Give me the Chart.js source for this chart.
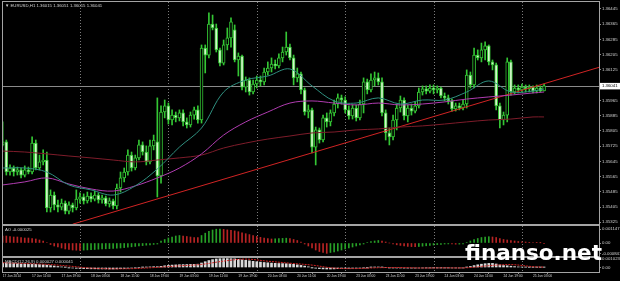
<!DOCTYPE html>
<html>
<head>
<meta charset="utf-8">
<script src="https://cdn.jsdelivr.net/npm/chart.js@4.4.1/dist/chart.umd.min.js"></script>
<style>
  html, body { margin: 0; padding: 0; background: #000; }
  #wrap { position: relative; width: 620px; height: 281px; background: #000; overflow: hidden; }
  #wrap canvas { position: absolute; left: 0; }
  #mark { position: absolute; left: 465px; top: 242px; font: bold 21.5px/21.5px "DejaVu Sans", sans-serif; color: #fff; white-space: nowrap; }
</style>
</head>
<body>
<div id="wrap">
  <canvas id="price" width="620" height="225" style="top:0"></canvas>
  <canvas id="ao" width="620" height="32" style="top:225px"></canvas>
  <canvas id="macd" width="620" height="24" style="top:257px"></canvas>
  <div id="mark">finanso.net</div>
</div>
<script>
// EURUSD H1, 17 Jun 03:00 .. 25 Jun 05:00 (one entry per hourly bar)
const opens = [
  1.35731,1.35747,1.35589,1.35610,1.35589,1.35600,1.35573,1.35600,1.35589,1.35741,
  1.35610,1.35642,1.35652,1.35400,1.35468,1.35416,1.35405,1.35426,1.35384,1.35416,
  1.35400,1.35447,1.35458,1.35437,1.35463,1.35447,1.35468,1.35442,1.35453,1.35421,
  1.35437,1.35411,1.35505,1.35558,1.35589,1.35678,1.35610,1.35663,1.35731,1.35694,
  1.35642,1.35726,1.35747,1.35568,1.35904,1.35936,1.35862,1.35888,1.35873,1.35899,
  1.35852,1.35836,1.35888,1.35915,1.35862,1.36240,1.36203,1.36366,1.36345,1.36230,
  1.36161,1.36256,1.36293,1.36335,1.36177,1.36198,1.36035,1.36072,1.36009,1.36051,
  1.36072,1.36062,1.36114,1.36135,1.36156,1.36146,1.36188,1.36219,1.36245,1.36188,
  1.36083,1.36104,1.36020,1.35904,1.35915,1.35720,1.35810,1.35757,1.35873,1.35852,
  1.35899,1.35946,1.35978,1.35967,1.35915,1.35883,1.35925,1.35873,1.35946,1.36062,
  1.36020,1.36072,1.36083,1.36062,1.35899,1.35794,1.35773,1.35862,1.35925,1.35967,
  1.35883,1.35925,1.35909,1.35936,1.36009,1.36025,1.36014,1.36030,1.36020,1.36030,
  1.35988,1.35978,1.35962,1.35920,1.35936,1.35925,1.35946,1.36098,1.36046,1.36203,
  1.36188,1.36230,1.36251,1.36167,1.36151,1.35936,1.35862,1.35888,1.36167,1.36009,
  1.36030,1.36020,1.36035,1.36025,1.36035,1.36014,1.36030,1.36015
];
const highs = [
  1.35852,1.35757,1.35626,1.35621,1.35615,1.35610,1.35621,1.35615,1.35773,1.35757,
  1.35678,1.35705,1.35694,1.35495,1.35484,1.35442,1.35447,1.35437,1.35432,1.35426,
  1.35495,1.35479,1.35474,1.35484,1.35479,1.35489,1.35479,1.35468,1.35463,1.35453,
  1.35447,1.35526,1.35589,1.35610,1.35705,1.35694,1.35678,1.35757,1.35747,1.35726,
  1.35757,1.35783,1.35978,1.35936,1.35967,1.35951,1.35915,1.35904,1.35915,1.35915,
  1.35873,1.35904,1.35930,1.35936,1.36256,1.36256,1.36424,1.36413,1.36366,1.36240,
  1.36282,1.36345,1.36398,1.36361,1.36214,1.36203,1.36088,1.36083,1.36072,1.36093,
  1.36093,1.36135,1.36167,1.36188,1.36177,1.36209,1.36245,1.36324,1.36261,1.36203,
  1.36135,1.36114,1.36030,1.35941,1.35925,1.35825,1.35820,1.35888,1.35899,1.35915,
  1.35967,1.35999,1.35993,1.35983,1.35936,1.35941,1.35941,1.35967,1.36083,1.36077,
  1.36104,1.36114,1.36109,1.36083,1.35915,1.35820,1.35888,1.35946,1.35988,1.35978,
  1.35941,1.35946,1.35957,1.36030,1.36041,1.36041,1.36046,1.36046,1.36041,1.36035,
  1.36004,1.35993,1.35972,1.35951,1.35951,1.35967,1.36125,1.36114,1.36240,1.36230,
  1.36266,1.36272,1.36256,1.36177,1.36161,1.35951,1.35904,1.36188,1.36177,1.36046,
  1.36046,1.36051,1.36046,1.36046,1.36041,1.36046,1.36041,1.36051
];
const lows = [
  1.35726,1.35573,1.35573,1.35568,1.35573,1.35558,1.35563,1.35579,1.35579,1.35600,
  1.35600,1.35626,1.35379,1.35379,1.35390,1.35379,1.35390,1.35369,1.35369,1.35379,
  1.35390,1.35426,1.35421,1.35426,1.35432,1.35437,1.35426,1.35426,1.35411,1.35405,
  1.35395,1.35395,1.35484,1.35537,1.35573,1.35594,1.35600,1.35652,1.35678,1.35626,
  1.35631,1.35705,1.35458,1.35531,1.35873,1.35841,1.35836,1.35852,1.35857,1.35831,
  1.35820,1.35825,1.35867,1.35846,1.35846,1.36109,1.36188,1.36335,1.36219,1.36146,
  1.36151,1.36230,1.36245,1.36167,1.36093,1.36020,1.36009,1.35993,1.35999,1.36030,
  1.36041,1.36046,1.36098,1.36114,1.36130,1.36135,1.36167,1.36203,1.36177,1.36046,
  1.36062,1.35999,1.35888,1.35873,1.35689,1.35626,1.35741,1.35747,1.35825,1.35831,
  1.35883,1.35925,1.35946,1.35899,1.35867,1.35867,1.35857,1.35862,1.35899,1.35999,
  1.36009,1.36041,1.36046,1.35883,1.35757,1.35731,1.35757,1.35810,1.35904,1.35862,
  1.35852,1.35888,1.35899,1.35925,1.35993,1.35999,1.36004,1.35999,1.36004,1.35978,
  1.35962,1.35946,1.35909,1.35909,1.35915,1.35915,1.35925,1.36030,1.36030,1.36177,
  1.36167,1.36177,1.36151,1.36125,1.35915,1.35820,1.35836,1.35852,1.35993,1.35999,
  1.36004,1.36009,1.36009,1.36009,1.36004,1.36004,1.36009,1.36015
];
const closes = [
  1.35747,1.35589,1.35610,1.35589,1.35600,1.35573,1.35600,1.35589,1.35741,1.35610,
  1.35642,1.35652,1.35400,1.35468,1.35416,1.35405,1.35426,1.35384,1.35416,1.35400,
  1.35447,1.35458,1.35437,1.35463,1.35447,1.35468,1.35442,1.35453,1.35421,1.35437,
  1.35411,1.35505,1.35558,1.35589,1.35678,1.35610,1.35663,1.35731,1.35694,1.35642,
  1.35726,1.35757,1.35568,1.35904,1.35936,1.35862,1.35888,1.35873,1.35899,1.35852,
  1.35836,1.35888,1.35915,1.35862,1.36240,1.36203,1.36366,1.36345,1.36230,1.36161,
  1.36256,1.36293,1.36377,1.36177,1.36198,1.36035,1.36072,1.36009,1.36051,1.36072,
  1.36062,1.36114,1.36135,1.36156,1.36146,1.36188,1.36219,1.36245,1.36188,1.36083,
  1.36104,1.36020,1.35904,1.35915,1.35720,1.35810,1.35757,1.35873,1.35852,1.35899,
  1.35946,1.35978,1.35967,1.35915,1.35883,1.35925,1.35873,1.35946,1.36062,1.36020,
  1.36072,1.36083,1.36062,1.35899,1.35794,1.35773,1.35862,1.35925,1.35967,1.35883,
  1.35925,1.35909,1.35936,1.36009,1.36025,1.36014,1.36030,1.36020,1.36030,1.35988,
  1.35978,1.35962,1.35920,1.35936,1.35925,1.35946,1.36098,1.36046,1.36203,1.36188,
  1.36230,1.36251,1.36167,1.36151,1.35936,1.35862,1.35888,1.36167,1.36009,1.36030,
  1.36020,1.36035,1.36025,1.36035,1.36014,1.36030,1.36015,1.36041
];
const aoValues = [
  0.000574,0.000574,0.000533,0.000492,0.000492,0.000451,0.00041,0.00041,0.000369,0.000328,
  0.000246,0.000164,0.000041,-0.000123,-0.000246,-0.000328,-0.00041,-0.000492,-0.000533,-0.000574,-0.00059,
  -0.000599,-0.000582,-0.000566,-0.000549,-0.000533,-0.000508,-0.000492,-0.000476,-0.000459,-0.000451,
  -0.000426,-0.00041,-0.000377,-0.000344,-0.000312,-0.000279,-0.000246,-0.000213,-0.00018,-0.000148,-0.000115,-0.000082,
  0.000164,0.000287,0.00041,0.000492,0.000574,0.000615,0.000574,0.000533,0.000492,0.000451,0.000451,
  0.000615,0.000804,0.000951,0.001066,0.001132,0.001147,0.001115,0.001074,0.001033,0.000992,
  0.000927,0.000836,0.000763,0.000689,0.000615,0.000541,0.000467,0.000402,0.000361,0.000328,
  0.000344,0.000361,0.000377,0.000394,0.000369,0.000287,0.000205,0.000082,-0.000082,-0.000246,
  -0.00041,-0.000574,-0.000697,-0.000779,-0.000847,
  -0.000779,-0.000738,-0.000656,-0.000574,-0.000492,-0.00041,-0.000328,-0.000246,-0.000164,-0.000082,
  0.000041,0.000123,0.000164,0.000205,0.000164,0.000082,0,-0.000082,-0.000148,-0.000197,
  -0.000246,-0.000279,-0.000295,-0.000303,-0.000287,-0.000262,-0.00023,-0.000197,-0.000164,-0.000131,
  -0.000107,-0.000082,-0.000074,-0.000082,-0.000098,-0.00009,-0.000066,
  0.000041,0.000164,0.000287,0.000369,0.000451,0.000492,0.000517,0.000492,0.000451,0.000369,
  0.000287,0.000246,0.000205,0.000164,0.000123,0.000098,0.000082,0.000057,0.000041,0.000025,
  0.000016,-0.000025
];
const macdValues = [
  0.000518,0.000506,0.000483,0.00046,0.000437,0.000414,0.000403,0.00038,0.00038,0.000368,0.000345,0.000322,0.000276,
  0.000219,0.000173,0.000115,0.000069,0.000023,-0.000023,-0.000058,-0.000092,
  -0.000115,-0.000127,-0.000138,-0.00015,-0.00015,-0.000161,-0.000161,-0.000161,-0.000173,-0.000173,-0.000161,-0.000138,-0.000115,
  -0.000081,-0.000058,-0.000035,0,0.000023,0.000046,0.000069,0.000092,0.000092,0.000138,0.000196,0.000242,
  0.000276,0.000299,0.000322,0.000334,0.000345,0.000357,0.000368,0.00038,
  0.000518,0.000667,0.000805,0.000909,0.000978,0.001012,0.001023,0.001023,0.001012,0.000989,0.000943,0.000886,0.000828,
  0.000771,0.000713,0.000667,0.000621,0.000575,0.000541,0.000506,0.000483,0.00046,0.000449,0.000437,0.000414,
  0.000368,0.000311,0.000242,0.000161,0.000081,-0.000012,-0.000081,-0.000127,-0.000161,-0.000173,-0.000173,-0.000161,-0.000138,-0.000115,-0.000104,
  -0.000092,-0.000081,-0.000081,-0.000069,-0.000035,-0.000012,0.000023,0.000046,0.000058,0.000035,0,-0.000023,-0.000046,-0.000058,-0.000058,-0.000069,
  -0.000069,-0.000069,-0.000069,-0.000058,-0.000046,-0.000035,-0.000035,-0.000023,-0.000023,-0.000023,-0.000035,-0.000035,-0.000046,-0.000046,-0.000046,-0.000046,
  0.000023,0.000115,0.000219,0.000311,0.00038,0.000437,0.000472,0.000472,0.000403,0.000299,0.00023,
  0.000196,0.00015,0.000104,0.000069,0.000046,0.000035,0.000023,0.000023,0.000023,0.000023,0.000027
];
// moving averages and MACD signal read at every 6th bar
const maIdx = [0,6,12,18,24,30,36,42,48,54,60,66,72,78,84,90,96,102,108,114,120,126,132,138,144,147];
const maFast = [1.35610,1.35610,1.35589,1.35521,1.35495,1.35468,1.35516,1.35605,1.35720,1.35820,1.36009,1.36072,1.36093,
  1.36130,1.36041,1.35962,1.35951,1.35978,1.35946,1.35967,1.35967,1.36009,1.36067,1.36009,1.36014,1.36025];
const maMid = [1.35521,1.35537,1.35558,1.35526,1.35500,1.35489,1.35516,1.35558,1.35610,1.35684,1.35783,1.35852,1.35904,
  1.35951,1.35962,1.35951,1.35941,1.35951,1.35941,1.35946,1.35957,1.35972,1.35983,1.35993,1.36004,1.36009];
const maSlow = [1.35699,1.35694,1.35684,1.35673,1.35663,1.35652,1.35642,1.35652,1.35663,1.35678,1.35715,1.35741,1.35762,
  1.35778,1.35794,1.35799,1.35810,1.35815,1.35825,1.35831,1.35841,1.35852,1.35862,1.35867,1.35878,1.35878];
const macdSignal = [0.000552,0.00046,0.000368,0.000169,-0.000069,-0.000154,-0.000122,0.000016,0.000192,0.000355,0.000736,
  0.000966,0.000725,0.000495,0.000276,-0.000069,-0.000124,-0.000026,-0.000002,-0.00006,-0.000038,-0.000031,0.000207,
  0.000337,0.000097,0.000041];
const trendIdx = [19, 162];
const trendValues = [1.35315, 1.36139];
const dayIdx = [21, 45, 69, 93, 117, 141];
const tickIdx = [0,8,16,24,32,40,48,56,64,72,80,88,96,104,112,120,128,136,144];
const tickLabels = ['17 Jun 2014','17 Jun 11:00','17 Jun 19:00','18 Jun 03:00','18 Jun 11:00','18 Jun 19:00',
  '19 Jun 03:00','19 Jun 11:00','19 Jun 19:00','20 Jun 03:00','20 Jun 11:00','20 Jun 19:00','23 Jun 03:00',
  '23 Jun 11:00','23 Jun 19:00','24 Jun 03:00','24 Jun 11:00','24 Jun 19:00','25 Jun 03:00'];
const priceTicks = [1.36445,1.36365,1.36285,1.36205,1.36125,1.35965,1.35885,1.35805,1.35725,1.35645,1.35565,1.35485,1.35405,1.35325];
const aoTicks = [0.001147, 0, -0.000847];
const macdTicks = [0.001023, 0];

const last = closes.length - 1;
const green = '#34c634';
const textColor = '#d4d4d4';
const fontFamily = '"Liberation Sans", "DejaVu Sans", sans-serif';
const tinyFont = { family: fontFamily, size: 4.3 };

Chart.defaults.animation = false;
Chart.defaults.responsive = false;
Chart.defaults.plugins.legend.display = false;
Chart.defaults.plugins.tooltip.enabled = false;

const xBase = { type: 'linear', min: 0.095, max: 161.92, offset: false };

function yAxis(min, max, values, fmt) {
  return {
    position: 'right', min: min, max: max,
    afterBuildTicks: s => { s.ticks = values.map(v => ({ value: v })); },
    afterFit: s => { s.width = 21; s.paddingTop = 0; s.paddingBottom = 0; },
    ticks: { color: textColor, font: tinyFont, padding: 1, autoSkip: false, callback: fmt },
    grid: { drawOnChartArea: false, drawTicks: true, tickLength: 2, color: '#8c8c8c' },
    border: { display: false }
  };
}

const points = (idx, vals) => idx.map((x, k) => ({ x: x, y: vals[k] }));

function line(data, color, width) {
  return { type: 'line', data: data, borderColor: color, borderWidth: width || 1, pointRadius: 0,
    tension: 0.35, order: 0 };
}

// frame, day separators and the small title in each panel
const panelPlugin = {
  id: 'panel',
  beforeDatasetsDraw(chart) {
    const { ctx, chartArea: a, scales: { x } } = chart;
    ctx.save();
    ctx.strokeStyle = '#7c7c7c';
    ctx.lineWidth = 1;
    ctx.setLineDash([1, 2]);
    dayIdx.forEach(d => {
      const px = Math.round(x.getPixelForValue(d)) + 0.5;
      ctx.beginPath();
      ctx.moveTo(px, a.top);
      ctx.lineTo(px, a.bottom);
      ctx.stroke();
    });
    ctx.restore();
  },
  afterDraw(chart, args, opts) {
    const { ctx, chartArea: a } = chart;
    ctx.save();
    ctx.strokeStyle = '#a4a4a4';
    ctx.lineWidth = 1;
    ctx.strokeRect(a.left - 0.5, a.top - 0.5, a.right - a.left + 1, a.bottom - a.top + 1);
    if (opts.title) {
      ctx.fillStyle = textColor;
      ctx.font = '4.3px ' + fontFamily;
      ctx.textBaseline = 'middle';
      ctx.fillText(opts.title, a.left + 2, a.top + 3.5);
    }
    ctx.restore();
  }
};

// bid line and the current price box on the price axis
const bidPlugin = {
  id: 'bid',
  beforeDatasetsDraw(chart) {
    const { ctx, chartArea: a, scales: { y } } = chart;
    const py = Math.round(y.getPixelForValue(closes[last])) + 0.5;
    ctx.save();
    ctx.strokeStyle = '#8a8a8a';
    ctx.lineWidth = 1;
    ctx.beginPath();
    ctx.moveTo(a.left, py);
    ctx.lineTo(a.right, py);
    ctx.stroke();
    ctx.restore();
  },
  afterDraw(chart) {
    const { ctx, chartArea: a, scales: { y } } = chart;
    const py = y.getPixelForValue(closes[last]);
    ctx.save();
    ctx.fillStyle = '#ffffff';
    ctx.fillRect(a.right + 1, py - 3, chart.width - a.right - 1, 6.5);
    ctx.fillStyle = '#000000';
    ctx.font = '4.3px ' + fontFamily;
    ctx.textBaseline = 'middle';
    ctx.fillText(closes[last].toFixed(5), a.right + 3, py + 0.3);
    ctx.restore();
  }
};

new Chart(document.getElementById('price'), {
  type: 'bar',
  plugins: [panelPlugin, bidPlugin],
  data: {
    datasets: [
      line(points(maIdx, maFast), '#2f8f7f'),
      line(points(maIdx, maMid), '#b03cb0'),
      line(points(maIdx, maSlow), '#7e1c2a'),
      { type: 'line', data: points(trendIdx, trendValues), borderColor: '#d02424', borderWidth: 1, pointRadius: 0, order: 0 },
      {
        data: opens.map((o, i) => ({ x: i, y: [o, closes[i]] })),
        backgroundColor: c => closes[c.dataIndex] >= opens[c.dataIndex] ? '#000000' : '#d4f5cc',
        borderColor: green, borderWidth: 1, borderSkipped: false,
        barThickness: 3, grouped: false, order: 1
      },
      {
        data: lows.map((l, i) => ({ x: i, y: [l, highs[i]] })),
        backgroundColor: green, barThickness: 1, grouped: false, order: 2
      }
    ]
  },
  options: {
    layout: { padding: { left: 3, top: 2, right: 0, bottom: 1 } },
    plugins: {
      panel: { title: '\u25BC EURUSD,H1 ' + [opens[last], highs[last], lows[last], closes[last]].map(v => v.toFixed(5)).join(' ') }
    },
    scales: {
      x: Object.assign({}, xBase, { display: false }),
      y: yAxis(1.35316, 1.364815, priceTicks, v => v.toFixed(5))
    }
  }
});

new Chart(document.getElementById('ao'), {
  type: 'bar',
  plugins: [panelPlugin],
  data: {
    datasets: [{
      data: aoValues.map((v, i) => ({ x: i, y: v })),
      backgroundColor: c => (c.dataIndex > 0 && aoValues[c.dataIndex] > aoValues[c.dataIndex - 1]) ? '#27a027' : '#b82424',
      barThickness: 1, grouped: false
    }]
  },
  options: {
    layout: { padding: { left: 3, top: 1, right: 0, bottom: 1 } },
    plugins: { panel: { title: 'AO ' + aoValues[last].toFixed(6) } },
    scales: {
      x: Object.assign({}, xBase, { display: false }),
      y: yAxis(-0.001066, 0.001394, aoTicks, v => v === 0 ? '0.00' : String(v))
    }
  }
});

new Chart(document.getElementById('macd'), {
  type: 'bar',
  plugins: [panelPlugin],
  data: {
    datasets: [
      { type: 'line', data: points(maIdx, macdSignal), borderColor: '#d02424', borderWidth: 1, borderDash: [2, 1],
        pointRadius: 0, tension: 0.35, order: 0 },
      { data: macdValues.map((v, i) => ({ x: i, y: v })), backgroundColor: '#d8d8d8', barThickness: 2, grouped: false, order: 1 }
    ]
  },
  options: {
    layout: { padding: { left: 3, top: 1, right: 0, bottom: 0 } },
    plugins: {
      panel: { title: 'MACD(12,26,9) ' + macdValues[last].toFixed(6) + ' ' + macdSignal[macdSignal.length - 1].toFixed(6) }
    },
    scales: {
      x: Object.assign({}, xBase, {
        position: 'bottom',
        afterBuildTicks: s => { s.ticks = tickIdx.map(v => ({ value: v })); },
        afterFit: s => { s.height = 9; s.paddingLeft = 0; s.paddingRight = 0; },
        ticks: { color: textColor, font: { family: fontFamily, size: 3.3 }, padding: 0.5, align: 'start',
          autoSkip: false, maxRotation: 0, minRotation: 0, callback: (v, i) => tickLabels[i] },
        grid: { drawOnChartArea: false, drawTicks: true, tickLength: 2, color: '#8c8c8c' },
        border: { display: false }
      }),
      y: yAxis(-0.0005175, 0.0010925, macdTicks, v => v === 0 ? '0.00' : String(v))
    }
  }
});
</script>
</body>
</html>
